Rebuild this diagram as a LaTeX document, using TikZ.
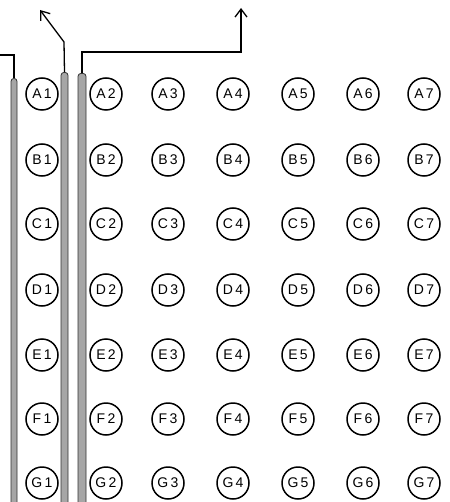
\documentclass[tikz,border=0pt]{standalone}
\usepackage{fontspec}
\setmainfont{Liberation Sans}
\usetikzlibrary{arrows.meta, positioning}

\begin{document}
\begin{tikzpicture}[
  x=1pt, y=-1pt,
  hole/.style={circle, draw, line width=1.5pt, minimum size=32pt, inner sep=0pt,
               font=\fontsize{14}{14}\selectfont},
  rod/.style={rectangle, rounded corners=3pt, draw=black!80, line width=0.8pt,
              fill=black!35, inner sep=0pt, anchor=north},
  lead/.style={line width=1.3pt},
  arr/.style={-{Straight Barb[length=8pt, width=12pt, line width=1.3pt]}, line width=1.3pt}
]
  \useasboundingbox (0,0) rectangle (449,502);

  % grid of holes
  \foreach \r/\y in {A/94,B/160,C/224,D/290,E/355,F/419,G/483}
    \foreach \c/\x in {1/42,2/106,3/168,4/233,5/298,6/363,7/424}
      \node[hole] (\r\c) at (\x,\y) {\r\,\c};

  % rods
  \node[rod, minimum width=6pt, minimum height=440pt] (rod1) at (14,78) {};
  \node[rod, minimum width=7pt, minimum height=440pt] (rod2) at (64.5,72) {};
  \node[rod, minimum width=8pt, minimum height=440pt] (rod3) at (82,73) {};

  \coordinate (k1) at (14,55);
  \coordinate (e1) at (0,55);
  \coordinate (k2) at (64,42);
  \coordinate (e2) at (40,10);
  \coordinate (k3) at (82,52);
  \coordinate (k4) at (241,52);
  \coordinate (e3) at (241,8);

  \draw[lead] (rod1.north) -- (k1) -- (e1);
  \draw[arr] (rod2.north) -- (k2) -- (e2);
  \draw[arr] (rod3.north) -- (k3) -- (k4) -- (e3);
\end{tikzpicture}
\end{document}
